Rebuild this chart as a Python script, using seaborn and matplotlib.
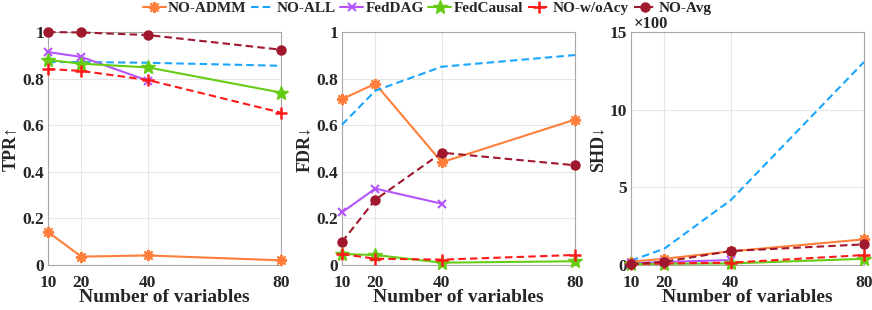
import pandas as pd
import numpy as np
import matplotlib
matplotlib.use('Agg')
import matplotlib.pyplot as plt
import seaborn as sns

n_vars = [10, 20, 40, 80]
methods = ['NO-ADMM', 'NO-ALL', 'FedDAG', 'FedCausal', 'NO-w/oAcy', 'NO-Avg']

tpr = {
    'NO-ADMM': [0.142, 0.036, 0.041, 0.020],
    'NO-ALL': [0.871, 0.871, 0.868, 0.855],
    'FedDAG': [0.914, 0.893, 0.791, np.nan],
    'FedCausal': [0.880, 0.864, 0.848, 0.740],
    'NO-w/oAcy': [0.841, 0.833, 0.794, 0.654],
    'NO-Avg': [1.0, 0.998, 0.987, 0.924],
}
fdr = {
    'NO-ADMM': [0.712, 0.778, 0.441, 0.624],
    'NO-ALL': [0.602, 0.748, 0.851, 0.901],
    'FedDAG': [0.226, 0.328, 0.263, np.nan],
    'FedCausal': [0.047, 0.043, 0.010, 0.016],
    'NO-w/oAcy': [0.047, 0.027, 0.023, 0.043],
    'NO-Avg': [0.099, 0.280, 0.482, 0.428],
}
# SHD in units of 100
shd = {
    'NO-ADMM': [0.22, 0.40, 0.88, 1.65],
    'NO-ALL': [0.28, 1.05, 4.18, 13.07],
    'FedDAG': [0.10, 0.19, 0.32, np.nan],
    'FedCausal': [0.05, 0.08, 0.10, 0.40],
    'NO-w/oAcy': [0.06, 0.10, 0.15, 0.64],
    'NO-Avg': [0.06, 0.21, 0.90, 1.33],
}

colors = {'NO-ADMM': '#FF7F3A', 'NO-ALL': '#1AA6FF', 'FedDAG': '#B455FF',
          'FedCausal': '#66CC14', 'NO-w/oAcy': '#FF1A1A', 'NO-Avg': '#A0182E'}
markers = {'NO-ADMM': (8, 2, 0), 'NO-ALL': '', 'FedDAG': 'x',
           'FedCausal': '*', 'NO-w/oAcy': '+', 'NO-Avg': 'o'}
dashes = {'NO-ADMM': '', 'NO-ALL': (3.6, 2.0), 'FedDAG': '', 'FedCausal': '',
          'NO-w/oAcy': (3.6, 2.0), 'NO-Avg': (3.6, 2.0)}
msizes = {'NO-ADMM': 8, 'NO-ALL': 0, 'FedDAG': 6, 'FedCausal': 10,
          'NO-w/oAcy': 8, 'NO-Avg': 6.5}
mews = {'NO-ADMM': 1.5, 'NO-ALL': 0, 'FedDAG': 1.5, 'FedCausal': 1.0,
        'NO-w/oAcy': 1.8, 'NO-Avg': 1.0}


def to_long(d):
    rows = []
    for m in methods:
        for x, v in zip(n_vars, d[m]):
            rows.append({'n': x, 'value': v, 'method': m})
    return pd.DataFrame(rows).dropna()


sns.set_theme(style='whitegrid')
plt.rcParams['font.family'] = ['Liberation Serif', 'DejaVu Serif']
plt.rcParams['font.weight'] = 'bold'

fig = plt.figure(figsize=(8.72, 3.10), dpi=100)
lefts = [48 / 872, 342 / 872, 631 / 872]
w = 233 / 872
b = 45 / 310
h = 233 / 310

panels = [(tpr, 'TPR↑', (0, 1), [0, 0.2, 0.4, 0.6, 0.8, 1]),
          (fdr, 'FDR↓', (0, 1), [0, 0.2, 0.4, 0.6, 0.8, 1]),
          (shd, 'SHD↓', (0, 15), [0, 5, 10, 15])]

axes = []
for i, (d, lab, ylim, yt) in enumerate(panels):
    ax = fig.add_axes([lefts[i], b, w, h])
    df = to_long(d)
    for m in methods:
        sub = df[df['method'] == m]
        sns.lineplot(data=sub, x='n', y='value', ax=ax, color=colors[m],
                     marker=markers[m] if markers[m] else None,
                     markersize=msizes[m], markeredgewidth=mews[m],
                     markeredgecolor=colors[m],
                     linewidth=1.5, label=m, clip_on=False, zorder=3)
        ln = ax.lines[-1]
        if dashes[m]:
            ln.set_dashes(dashes[m])
    ax.set_xlim(10, 80)
    ax.set_ylim(*ylim)
    ax.set_xticks(n_vars)
    ax.set_yticks(yt)
    ax.set_yticklabels(['%g' % t for t in yt])
    ax.tick_params(labelsize=12.5, length=0)
    ax.tick_params(axis='y', pad=3)
    ax.tick_params(axis='x', pad=7)
    ax.set_xlabel('Number of variables', fontsize=14, fontweight='bold', labelpad=-1)
    ax.set_ylabel(lab, fontsize=13, fontweight='bold', labelpad=2)
    ax.grid(True, color='#E6E6E6', linewidth=0.8)
    for s in ax.spines.values():
        s.set_color('#A8A8A8')
        s.set_linewidth(0.8)
    if ax.get_legend():
        ax.get_legend().remove()
    axes.append(ax)

axes[2].text(0.01, 1.0, '×100', transform=axes[2].transAxes, fontsize=12,
             fontweight='bold', ha='left', va='bottom')

handles, labels = axes[0].get_legend_handles_labels()
fig.legend(handles, labels, loc='upper center', bbox_to_anchor=(0.49, 1.04),
           ncol=6, frameon=False, handlelength=1.5,
           handletextpad=0.15, columnspacing=0.3, prop={'weight': 'bold', 'size': 11})

fig.savefig('out.png', dpi=100)
